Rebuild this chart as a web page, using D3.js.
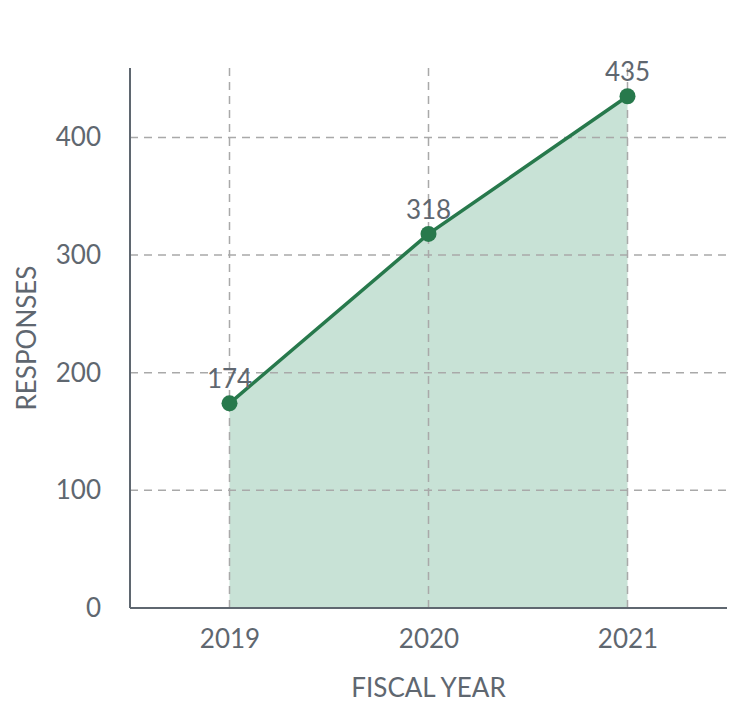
<!DOCTYPE html>
<html><head><meta charset="utf-8">
<script src="https://cdn.jsdelivr.net/npm/d3@7"></script>
<style>body{margin:0;background:#fff}svg{display:block;font-family:Lato,sans-serif}</style>
</head><body><div id="chart"></div>
<script>
const years = ["2019","2020","2021"];
const responses = [174, 318, 435];
const yTicks = [0,100,200,300,400];

const W=750,H=722, m={l:130,r:23,t:68,b:114};
const svg=d3.select("#chart").append("svg").attr("width",W).attr("height",H);
const x=d3.scalePoint().domain(years).range([m.l,W-m.r]).padding(0.5);
const y=d3.scaleLinear().domain([0,459]).range([H-m.b,m.t]);
const data=years.map((yr,i)=>({yr,v:responses[i]}));
const textCol="#5f6770";
const fs=26;

// area
svg.append("path").datum(data).attr("fill","#c8e2d6")
  .attr("d",d3.area().x(d=>x(d.yr)).y0(y(0)).y1(d=>y(d.v)));

// grid
svg.append("g").selectAll("line").data(yTicks.filter(t=>t>0)).join("line")
  .attr("x1",m.l).attr("x2",W-m.r).attr("y1",d=>y(d)).attr("y2",d=>y(d))
  .attr("stroke","#a9a9a9").attr("stroke-width",1.5).attr("stroke-dasharray","8,6");
svg.append("g").selectAll("line").data(years).join("line")
  .attr("x1",d=>x(d)).attr("x2",d=>x(d)).attr("y1",m.t).attr("y2",y(0))
  .attr("stroke","#a9a9a9").attr("stroke-width",1.5).attr("stroke-dasharray","8,6");

// axes
const ya=svg.append("g").attr("transform",`translate(${m.l},0)`)
  .call(d3.axisLeft(y).tickValues(yTicks).tickSize(0).tickPadding(29));
const xa=svg.append("g").attr("transform",`translate(0,${y(0)})`)
  .call(d3.axisBottom(x).tickSize(0).tickPadding(22));
[ya,xa].forEach(a=>{
  a.select(".domain").attr("stroke",textCol).attr("stroke-width",2);
  a.selectAll("text").attr("fill",textCol).attr("font-size",fs).attr("font-family","Lato");
});
ya.select(".domain").attr("d",`M0,${m.t}V${y(0)}`);
xa.select(".domain").attr("d",`M${m.l},0H${W-m.r}`);

// line
svg.append("path").datum(data).attr("fill","none").attr("stroke","#27794c").attr("stroke-width",3.5)
  .attr("d",d3.line().x(d=>x(d.yr)).y(d=>y(d.v)));
svg.append("g").selectAll("circle").data(data).join("circle")
  .attr("cx",d=>x(d.yr)).attr("cy",d=>y(d.v)).attr("r",8).attr("fill","#27794c");
svg.append("g").selectAll("text").data(data).join("text")
  .attr("x",d=>x(d.yr)).attr("y",d=>y(d.v)-15).attr("text-anchor","middle")
  .attr("fill",textCol).attr("font-size",fs).text(d=>d.v);

// titles
svg.append("text").attr("x",x("2020")).attr("y",697).attr("text-anchor","middle")
  .attr("fill",textCol).attr("font-size",fs).text("FISCAL YEAR");
svg.append("text").attr("transform",`translate(36,${(m.t+y(0))/2}) rotate(-90)`)
  .attr("text-anchor","middle").attr("fill",textCol).attr("font-size",fs).text("RESPONSES");
</script></body></html>
